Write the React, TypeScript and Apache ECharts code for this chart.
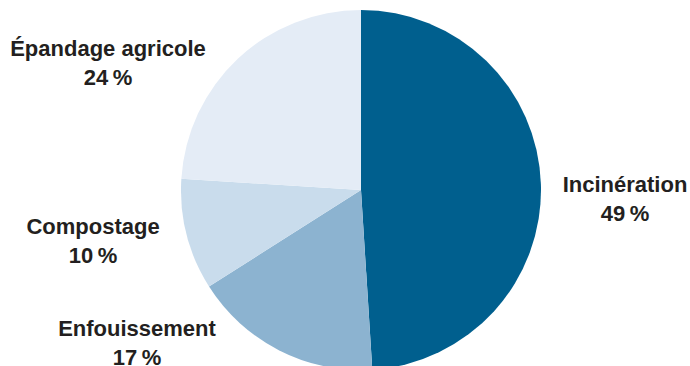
import React, { useEffect, useRef } from "react";
import * as echarts from "echarts";

const categories = ["Incinération", "Enfouissement", "Compostage", "Épandage agricole"];
const values = [49, 17, 10, 24];
const colors = ["#005f8e", "#8cb3d0", "#c9dcec", "#e4ecf6"];
const labelCenters: [number, number][] = [
  [625, 199],
  [137, 343],
  [93, 241],
  [108, 63],
];

export default function App() {
  const ref = useRef<HTMLDivElement>(null);
  useEffect(() => {
    if (!ref.current) return;
    const chart = echarts.init(ref.current, null, { renderer: "svg" });
    chart.setOption({
      animation: false,
      backgroundColor: "#ffffff",
      series: [
        {
          type: "pie",
          center: [361, 190],
          radius: [0, 180],
          startAngle: 90,
          clockwise: true,
          silent: true,
          data: categories.map((name, i) => ({
            name,
            value: values[i],
            itemStyle: { color: colors[i] },
          })),
          itemStyle: { borderWidth: 0 },
          label: {
            show: true,
            position: "outside",
            formatter: (p: any) => `${p.name}\n${p.value}\u2009%`,
            fontFamily: "Liberation Sans, Arial, sans-serif",
            fontWeight: "bold",
            fontSize: 22,
            lineHeight: 29,
            color: "#231f20",
            align: "center",
            overflow: "none",
            width: 300,
          },
          labelLine: { show: false },
          labelLayout: (params: any) => {
            const c = labelCenters[params.dataIndex];
            return {
              x: c[0],
              y: c[1],
              align: "center",
              verticalAlign: "middle",
            };
          },
        },
      ],
    });
    return () => chart.dispose();
  }, []);
  return (
    <div
      ref={ref}
      style={{ position: "fixed", left: 0, top: 0, width: 690, height: 366 }}
    />
  );
}
